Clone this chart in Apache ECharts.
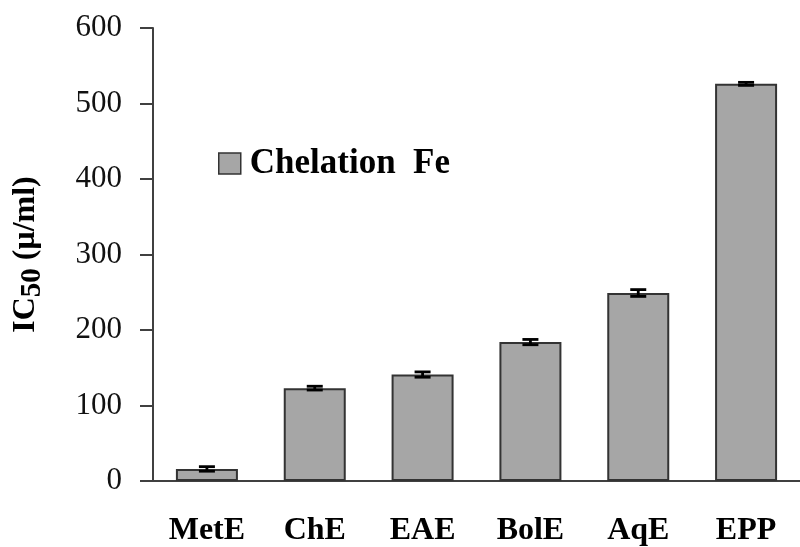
<!DOCTYPE html>
<html>
<head>
<meta charset="utf-8">
<script src="https://cdn.jsdelivr.net/npm/echarts@6/dist/echarts.min.js"></script>
<style>
html,body{margin:0;padding:0;background:#fff;}
#chart{width:800px;height:547px;}
</style>
</head>
<body>
<div id="chart"></div>
<script>
var categories = ['MetE', 'ChE', 'EAE', 'BolE', 'AqE', 'EPP'];
var values = [16, 123, 141, 184, 249, 526];
var errors = [3, 2.5, 3.5, 3.5, 4.5, 2];
var yTicks = [0, 100, 200, 300, 400, 500, 600];
var seriesName = 'Chelation  Fe';

var chart = echarts.init(document.getElementById('chart'));
var errData = categories.map(function (c, i) { return [i, values[i] - errors[i], values[i] + errors[i]]; });

chart.setOption({
  animation: false,
  backgroundColor: '#fff',
  grid: { left: 153, right: -9, top: 28, bottom: 64, containLabel: false },
  legend: {
    data: [{ name: seriesName, icon: 'rect' }],
    left: 218, top: 146, padding: 0,
    itemWidth: 22, itemHeight: 21,
    itemStyle: { color: '#a6a6a6', borderColor: '#333', borderWidth: 1.5 },
    textStyle: { fontFamily: 'Liberation Serif', fontWeight: 'bold', fontSize: 35, color: '#000', padding: [0, 0, 0, 4] }
  },
  xAxis: {
    type: 'category',
    data: categories,
    axisLine: { show: true, lineStyle: { color: '#404040', width: 2 } },
    axisTick: { show: false },
    axisLabel: { fontFamily: 'Liberation Serif', fontWeight: 'bold', fontSize: 32, color: '#000', margin: 34 }
  },
  yAxis: {
    type: 'value',
    min: yTicks[0], max: yTicks[yTicks.length - 1], interval: 100,
    splitLine: { show: false },
    axisLine: { show: true, lineStyle: { color: '#404040', width: 2 } },
    axisTick: { show: true, inside: false, length: 13, lineStyle: { color: '#404040', width: 2 } },
    axisLabel: { fontFamily: 'Liberation Serif', fontSize: 31, color: '#111', margin: 31 },
    name: 'IC{sub|50} (μ/ml)',
    nameLocation: 'middle',
    nameGap: 106,
    nameRotate: 90,
    nameTextStyle: {
      fontFamily: 'Liberation Serif', fontWeight: 'bold', fontSize: 32, color: '#000',
      rich: {
        sub: { fontFamily: 'Liberation Serif', fontWeight: 'bold', fontSize: 29, color: '#000', padding: [14, 0, 0, 0] }
      }
    }
  },
  series: [
    {
      name: seriesName,
      type: 'bar',
      data: values,
      barWidth: 62,
      itemStyle: { color: '#a6a6a6', borderColor: '#333', borderWidth: 2 }
    },
    {
      type: 'custom',
      data: errData,
      z: 5,
      renderItem: function (params, api) {
        var i = api.value(0);
        var lo = api.coord([i, api.value(1)]);
        var hi = api.coord([i, api.value(2)]);
        var hw = 8;
        var st = { stroke: '#000', lineWidth: 2.8 };
        return {
          type: 'group',
          children: [
            { type: 'line', shape: { x1: lo[0], y1: lo[1], x2: hi[0], y2: hi[1] }, style: st },
            { type: 'line', shape: { x1: lo[0] - hw, y1: lo[1], x2: lo[0] + hw, y2: lo[1] }, style: st },
            { type: 'line', shape: { x1: hi[0] - hw, y1: hi[1], x2: hi[0] + hw, y2: hi[1] }, style: st }
          ]
        };
      }
    }
  ]
});
</script>
</body>
</html>
